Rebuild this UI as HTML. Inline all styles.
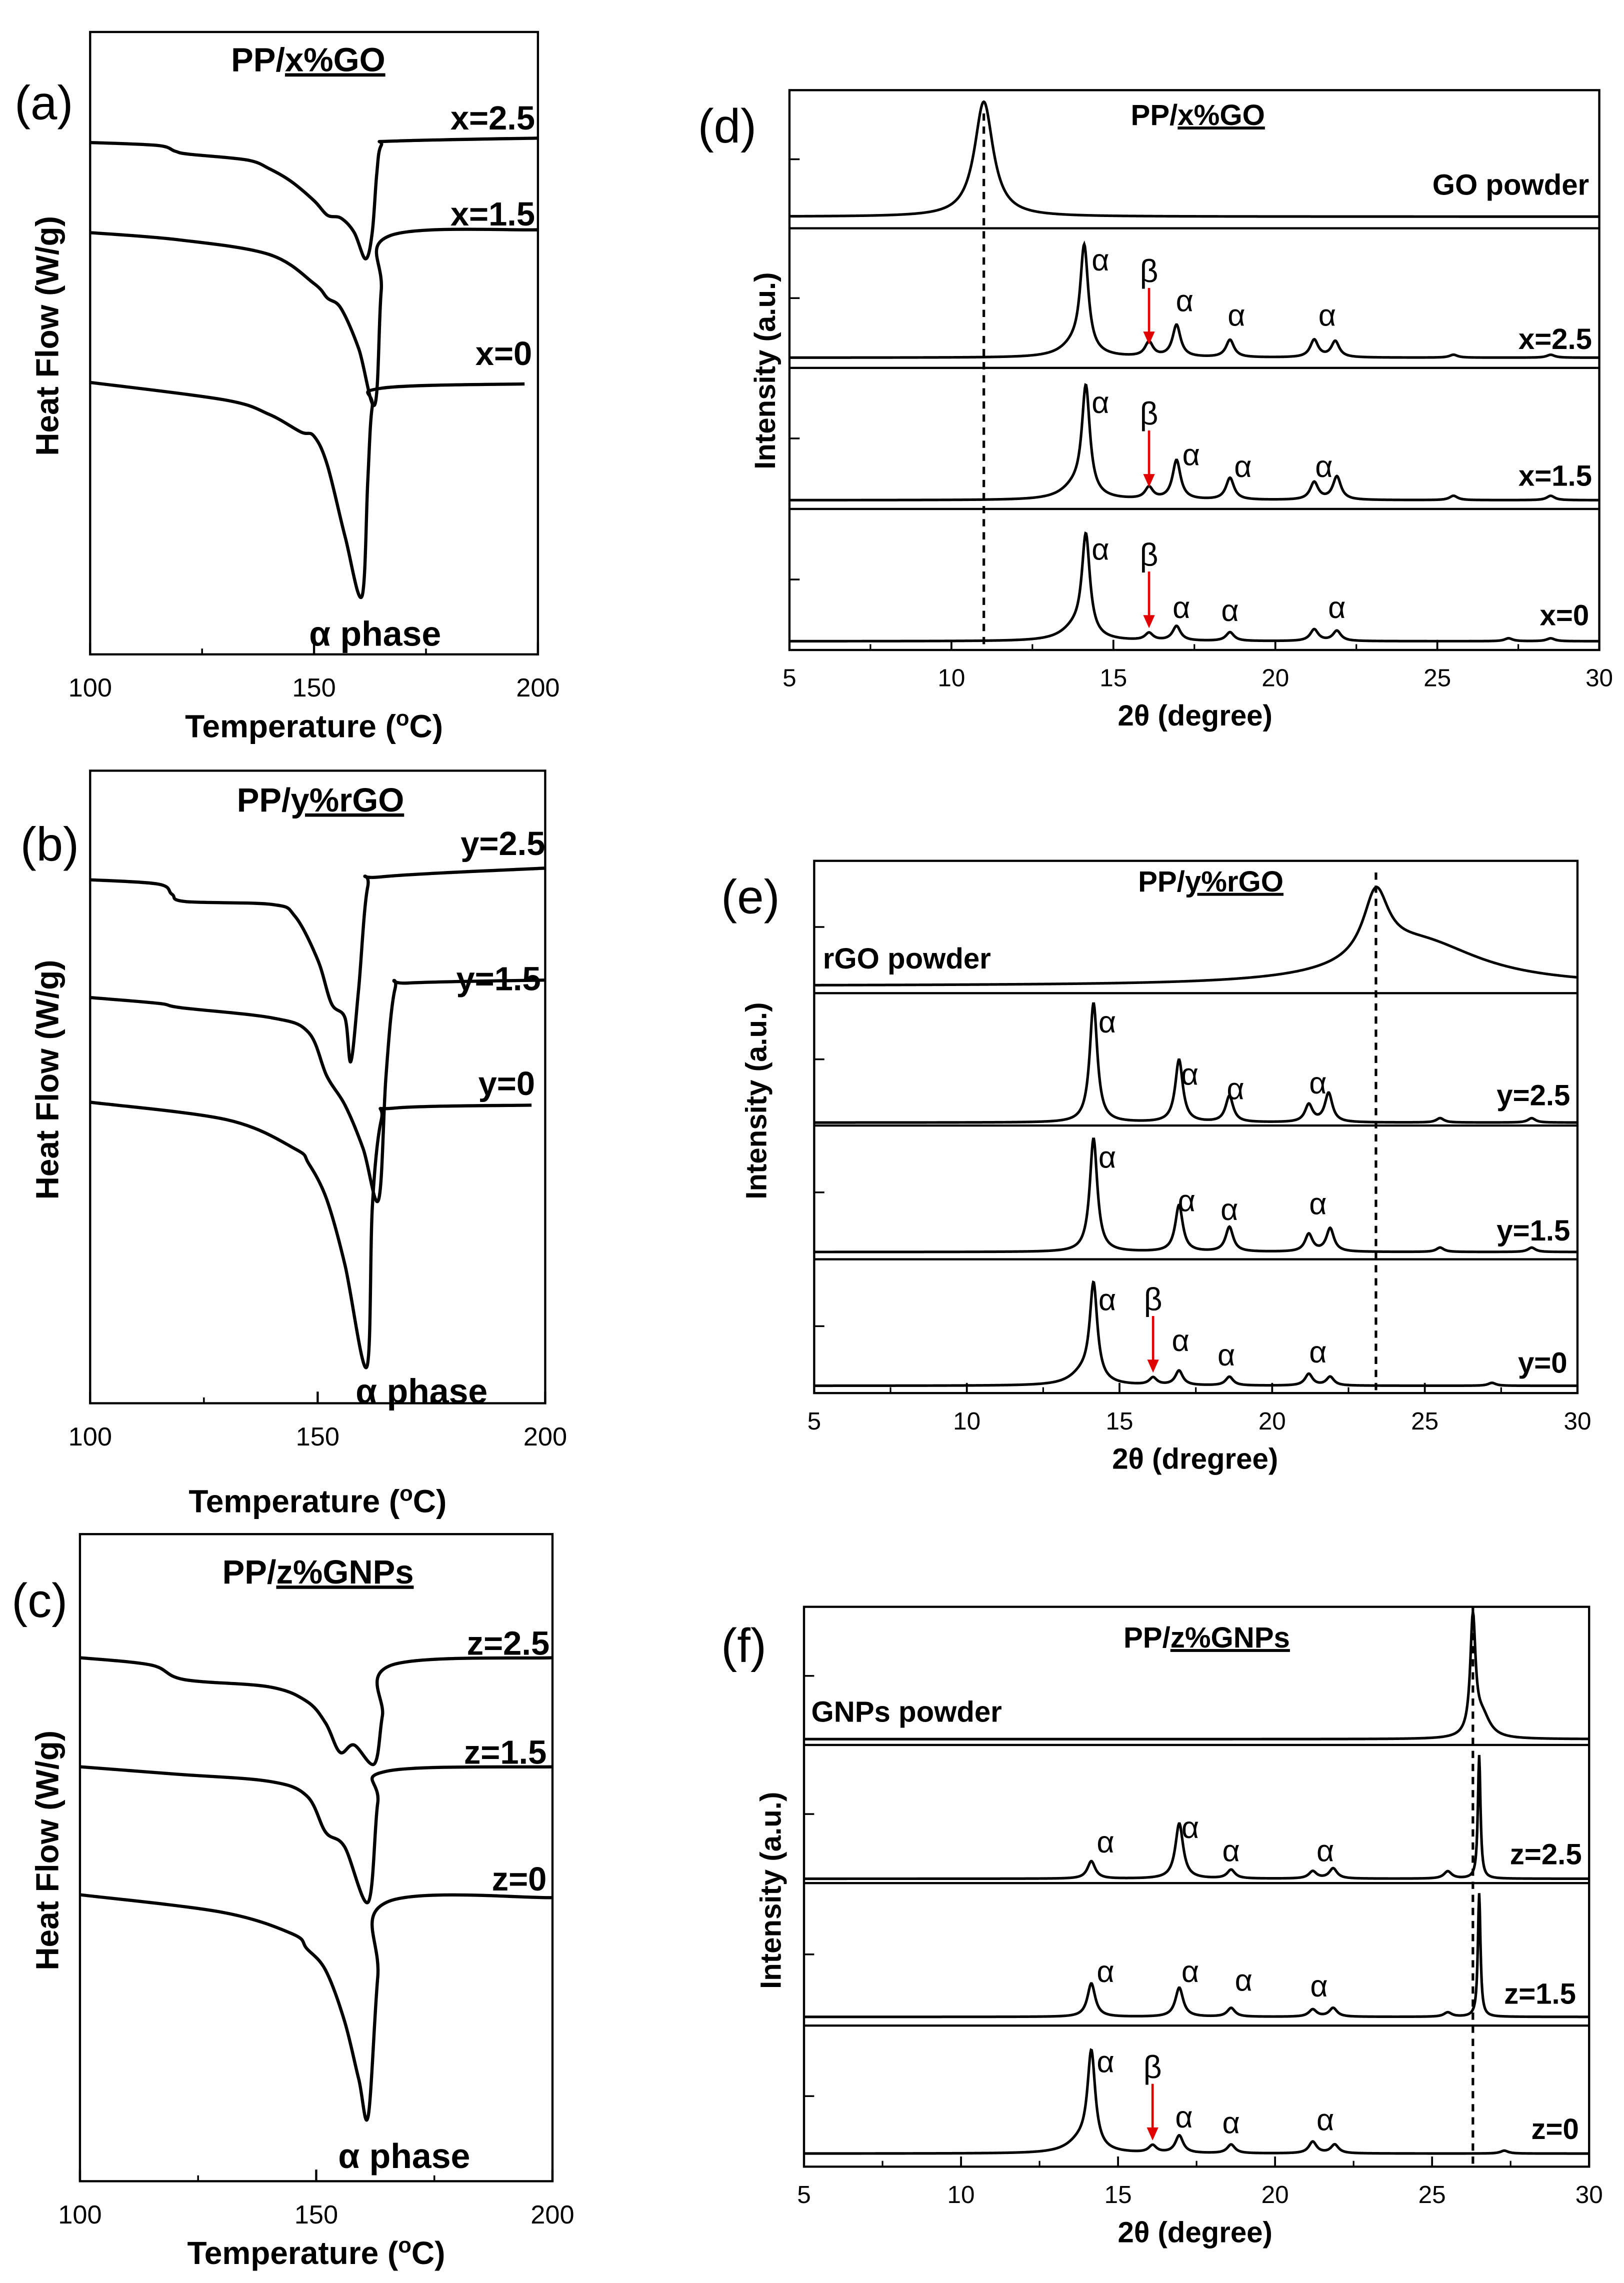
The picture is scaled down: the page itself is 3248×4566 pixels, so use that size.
<!DOCTYPE html>
<html><head><meta charset="utf-8"><style>
html,body{margin:0;padding:0;background:#fff}
svg{display:block}
text{font-family:"Liberation Sans",Arial,sans-serif;fill:#000}
</style></head><body>
<svg id="fig" xmlns="http://www.w3.org/2000/svg" width="3248" height="4566" viewBox="0 0 1117 1570" preserveAspectRatio="none"></svg>
<script>
// ---------- DSC data (temperature °C, heat-flow a.u., downward = endo) ----------
const dscA_T25=[100,115,119,122,135,140,145,150,153,156,159,161.5,163,164,165,168,200];
const dscA_H25=[98,100,104,106,110,116,125,138,148,150,160,178,160,120,100,97,95];
const dscA_T15=[100,120,140,150,153,156,160,163.6,165,167,200];
const dscA_H15=[160,165,175,195,205,212,240,278,200,162,158];
const dscA_T0=[100,130,140,147,150,153,157,160.7,162,163,165,197];
const dscA_H0=[263,275,285,297,300,320,370,410,330,280,267,264];
const dscB_T25=[100,115,118,121,140,145,150,153,156,157.3,159,161,164,200];
const dscB_H25=[605,608,615,620,622,630,660,690,700,730,680,610,603,597];
const dscB_T15=[100,115,120,140,148,152,156,160,163.4,165,167,170,200];
const dscB_H15=[686,690,693,700,710,740,760,790,825,740,680,676,674];
const dscB_T0=[100,130,145,148,152,156,160.8,162,164,167,197];
const dscB_H0=[758,770,790,800,825,870,940,830,770,762,760];
const dscC_T25=[100,115,122,140,148,152,155,158,162.3,164,166,200];
const dscC_H25=[1140,1145,1155,1160,1170,1185,1205,1200,1213,1180,1145,1140];
const dscC_T15=[100,120,140,148,152,156,161,163,165,200];
const dscC_H15=[1215,1220,1225,1235,1260,1270,1308,1240,1218,1215];
const dscC_T0=[100,130,145,148,152,156,159,161,163,165,200];
const dscC_H0=[1303,1315,1330,1340,1355,1390,1430,1455,1360,1308,1305];
const dscTicks=[100,150,200];
// ---------- XRD peak data (2θ, intensity, width) ----------
const goPos=[11.0],goInt=[79],goW=[0.35];
const x25Pos=[13.8,14.1,16.1,16.95,18.6,21.2,21.85,25.5,28.5],x25Int=[8,72,10,22,12,12,11,2,2];
const x15Pos=[13.8,14.15,16.1,16.95,18.6,21.2,21.9,25.5,28.5],x15Int=[8,74,8,27,15,12,16,3,3];
const x0Pos=[13.8,14.15,16.1,16.95,18.6,21.2,21.9,27.2,28.5],x0Int=[8,69,5,10,6,8,7,2,2];
const rgoPos=[23.4,24.8],rgoInt=[45,30],rgoW=[0.5,2.5];
const y25Pos=[14.15,16.95,18.6,21.2,21.85,25.5,28.5],y25Int=[82,43,18,12,20,3,3];
const y15Pos=[14.15,16.95,18.6,21.2,21.9,25.5,28.5],y15Int=[78,32,17,12,16,3,3];
const y0Pos=[13.8,14.15,16.1,16.95,18.6,21.2,21.9,27.2],y0Int=[8,66,5,10,6,8,6,2];
const gnpPos=[26.3,26.6],gnpInt=[80,15],gnpW=[0.1,0.3];
const z25Pos=[14.15,16.95,18.6,21.2,21.85,25.5,26.5],z25Int=[12,38,6,5,7,5,85];
const z15Pos=[14.15,16.95,18.6,21.2,21.85,25.5,26.5],z15Int=[23,20,6,5,6,3,85];
const z0Pos=[13.8,14.15,16.1,16.95,18.6,21.2,21.9,27.3],z0Int=[8,66,5,12,6,8,6,2];
const xrdTicks=[5,10,15,20,25,30];

const svg=document.getElementById('fig');
const NS='http://www.w3.org/2000/svg';
function mk(tag,attrs,name,parent){const e=document.createElementNS(NS,tag);for(const k in attrs)e.setAttribute(k,attrs[k]);


(parent||svg).appendChild(e);return e;}
function txt(x,y,s,size,name,opt){opt=opt||{};const t=mk('text',{x:x,y:y,'font-size':size,'font-weight':opt.bold?'bold':'normal','text-anchor':opt.anchor||'middle',fill:opt.fill||'#000'},name);if(opt.rot)t.setAttribute('transform','rotate(-90 '+x+' '+y+')');t.textContent=s;return t;}
function smooth(pts){let d='M'+pts[0][0].toFixed(1)+' '+pts[0][1].toFixed(1);
  for(let i=0;i<pts.length-1;i++){const p0=pts[i-1]||pts[i],p1=pts[i],p2=pts[i+1],p3=pts[i+2]||p2;
    const c1=[p1[0]+(p2[0]-p0[0])/6,p1[1]+(p2[1]-p0[1])/6],c2=[p2[0]-(p3[0]-p1[0])/6,p2[1]-(p3[1]-p1[1])/6];
    d+='C'+c1[0].toFixed(1)+' '+c1[1].toFixed(1)+' '+c2[0].toFixed(1)+' '+c2[1].toFixed(1)+' '+p2[0].toFixed(1)+' '+p2[1].toFixed(1);}
  return d;}

function dscPanel(p){
  const sx=T=>p.x0+(T-100)/(100)*(p.x1-p.x0);
  mk('rect',{x:p.x0,y:p.y0,width:p.x1-p.x0,height:p.y1-p.y0,fill:'none',stroke:'#000','stroke-width':1.5},p.id+'-frame');
  dscTicks.forEach(t=>{mk('line',{x1:sx(t),x2:sx(t),y1:p.y1,y2:p.y1-8,stroke:'#000','stroke-width':1.5},p.id+'-xtick');
    txt(sx(t),p.y1+29,t,18,p.id+'-xtick-label');});
  [125,175].forEach(t=>mk('line',{x1:sx(t),x2:sx(t),y1:p.y1,y2:p.y1-4,stroke:'#000','stroke-width':1.2},p.id+'-minor-tick'));
  p.curves.forEach(c=>{const pts=c.T.map((T,i)=>[sx(T),c.H[i]]);
    mk('path',{d:smooth(pts),fill:'none',stroke:'#000','stroke-width':2.2,'stroke-linejoin':'round'},p.id+'-curve-'+c.n);
    txt(c.lx,c.ly,c.label,23,p.id+'-label-'+c.n,{bold:true,anchor:'end'});});
  const xl=txt((p.x0+p.x1)/2,p.xlY,'Temperature (',22,p.id+'-x-axis-title',{bold:true});
  const sup=document.createElementNS(NS,'tspan');sup.setAttribute('dy','-8');sup.setAttribute('font-size','15');sup.textContent='o';xl.appendChild(sup);
  const c2=document.createElementNS(NS,'tspan');c2.setAttribute('dy','8');c2.textContent='C)';xl.appendChild(c2);
  txt(40,(p.y0+p.y1)/2-5,'Heat Flow (W/g)',22,p.id+'-y-axis-title',{bold:true,rot:true});
  txt(p.lx,p.ly,p.letter,33,p.id+'-panel-letter',{anchor:'start'});
  txt(p.tx,p.ty,p.t1,23,p.id+'-title',{bold:true,anchor:'end'});
  const t2=txt(p.tx,p.ty,p.t2,23,p.id+'-title-underlined',{bold:true,anchor:'start'});t2.setAttribute('text-decoration','underline');
  txt(p.px,p.py,'α phase',24,p.id+'-phase-label',{bold:true});
}
dscPanel({id:'a',x0:62,x1:370,y0:22,y1:450,xlY:507,lx:10,ly:82,letter:'(a)',tx:196,ty:49,t1:'PP/',t2:'x%GO',px:258,py:444,
 curves:[{n:'x25',T:dscA_T25,H:dscA_H25,label:'x=2.5',lx:368,ly:89},{n:'x15',T:dscA_T15,H:dscA_H15,label:'x=1.5',lx:368,ly:155},{n:'x0',T:dscA_T0,H:dscA_H0,label:'x=0',lx:366,ly:251}]});
dscPanel({id:'b',x0:62,x1:375,y0:530,y1:965,xlY:1040,lx:14,ly:592,letter:'(b)',tx:200,ty:558,t1:'PP/',t2:'y%rGO',px:290,py:965,
 curves:[{n:'y25',T:dscB_T25,H:dscB_H25,label:'y=2.5',lx:375,ly:588},{n:'y15',T:dscB_T15,H:dscB_H15,label:'y=1.5',lx:372,ly:681},{n:'y0',T:dscB_T0,H:dscB_H0,label:'y=0',lx:368,ly:753}]});
dscPanel({id:'c',x0:55,x1:380,y0:1055,y1:1500,xlY:1557,lx:8,ly:1112,letter:'(c)',tx:190,ty:1089,t1:'PP/',t2:'z%GNPs',px:278,py:1491,
 curves:[{n:'z25',T:dscC_T25,H:dscC_H25,label:'z=2.5',lx:378,ly:1138},{n:'z15',T:dscC_T15,H:dscC_H15,label:'z=1.5',lx:376,ly:1213},{n:'z0',T:dscC_T0,H:dscC_H0,label:'z=0',lx:376,ly:1300}]});

function xrdPanel(p){
  const sx=a=>p.x0+(a-5)/25*(p.x1-p.x0);
  mk('rect',{x:p.x0,y:p.y0,width:p.x1-p.x0,height:p.y1-p.y0,fill:'none',stroke:'#000','stroke-width':1.5},p.id+'-frame');
  p.seps.forEach(s=>mk('line',{x1:p.x0,x2:p.x1,y1:s,y2:s,stroke:'#000','stroke-width':1.5},p.id+'-separator'));
  const bounds=[p.y0].concat(p.seps,[p.y1]);
  for(let i=0;i<bounds.length-1;i++){const m=(bounds[i]+bounds[i+1])/2;
    mk('line',{x1:p.x0,x2:p.x0+7,y1:m,y2:m,stroke:'#000','stroke-width':1.2},p.id+'-ytick');
    mk('line',{x1:p.x0,x2:p.x0+7,y1:bounds[i],y2:bounds[i],stroke:'#000','stroke-width':1.2},p.id+'-ytick');}
  xrdTicks.forEach(t=>{mk('line',{x1:sx(t),x2:sx(t),y1:p.y1,y2:p.y1-7,stroke:'#000','stroke-width':1.3},p.id+'-xtick');
    txt(sx(t),p.y1+25,t,17,p.id+'-xtick-label');});
  for(let t=7.5;t<30;t+=5)mk('line',{x1:sx(t),x2:sx(t),y1:p.y1,y2:p.y1-4,stroke:'#000','stroke-width':1.1},p.id+'-minor-tick');
  mk('line',{x1:sx(p.dash),x2:sx(p.dash),y1:p.dashTop,y2:p.y1,stroke:'#000','stroke-width':1.8,'stroke-dasharray':'5,4'},p.id+'-dashed-line');
  p.traces.forEach(tr=>{const base=tr.base;const W=tr.W||[];let d='';
    for(let a=5;a<=30.0001;a+=0.02){let v=0;tr.P.forEach((pp,k)=>{const w=W[k]||(pp===13.8?0.5:(tr.narrow&&pp>26?0.05:0.15));v+=tr.I[k]/(1+((a-pp)/w)**2);});
      d+=(d?'L':'M')+sx(a).toFixed(2)+' '+(base-v).toFixed(2);}
    mk('path',{d:d,fill:'none',stroke:'#000','stroke-width':1.8},p.id+'-trace-'+tr.n);
    txt(tr.lx,tr.ly,tr.label,20,p.id+'-label-'+tr.n,{bold:true,anchor:tr.anchor||'end'});
    (tr.alpha||[]).forEach(al=>txt(sx(al[0]),base-al[1],'α',21,p.id+'-alpha-label'));
    if(tr.beta){const bx=sx(16.1);txt(bx,base-52,'β',22,p.id+'-beta-label',{fill:'#e00000'});
      mk('line',{x1:bx,x2:bx,y1:base-48,y2:base-16,stroke:'#e00000','stroke-width':1.6},p.id+'-beta-arrow');
      mk('path',{d:'M'+(bx-4)+' '+(base-18)+'L'+(bx+4)+' '+(base-18)+'L'+bx+' '+(base-9)+'Z',fill:'#e00000'},p.id+'-beta-arrowhead');}
  });
  txt(p.xlX,p.y1+52,p.xl,20,p.id+'-x-axis-title',{bold:true});
  txt(p.ylX,p.ylY,'Intensity (a.u.)',20,p.id+'-y-axis-title',{bold:true,rot:true});
  txt(p.lx,p.ly,p.letter,33,p.id+'-panel-letter',{anchor:'start'});
  txt(p.tx,p.ty,'PP/',20,p.id+'-title',{bold:true,anchor:'end'});
  const t2=txt(p.tx,p.ty,p.t2,20,p.id+'-title-underlined',{bold:true,anchor:'start'});t2.setAttribute('text-decoration','underline');
}
xrdPanel({id:'d',x0:543,x1:1100,y0:62,y1:447,seps:[157,253,350],dash:11,dashTop:78,xl:'2θ (degree)',xlX:822,ylX:533,ylY:255,lx:480,ly:98,letter:'(d)',tx:810,ty:86,t2:'x%GO',
 traces:[{n:'go',P:goPos,I:goInt,W:goW,base:149,label:'GO powder',lx:1093,ly:134},
 {n:'x25',P:x25Pos,I:x25Int,base:246,label:'x=2.5',lx:1095,ly:240,beta:true,alpha:[[14.6,60],[17.2,32],[18.8,22],[21.6,22]]},
 {n:'x15',P:x15Pos,I:x15Int,base:344,label:'x=1.5',lx:1095,ly:334,beta:true,alpha:[[14.6,60],[17.4,24],[19,16],[21.5,16]]},
 {n:'x0',P:x0Pos,I:x0Int,base:441,label:'x=0',lx:1093,ly:430,beta:true,alpha:[[14.6,56],[17.1,16],[18.6,14],[21.9,16]]}]});
xrdPanel({id:'e',x0:560,x1:1085,y0:592,y1:958,seps:[683,774,866],dash:23.4,dashTop:600,xl:'2θ (dregree)',xlX:822,ylX:527,ylY:757,lx:496,ly:628,letter:'(e)',tx:815,ty:613,t2:'y%rGO',
 traces:[{n:'rgo',P:rgoPos,I:rgoInt,W:rgoW,base:678,label:'rGO powder',lx:566,ly:666,anchor:'start'},
 {n:'y25',P:y25Pos,I:y25Int,base:772,label:'y=2.5',lx:1080,ly:760,alpha:[[14.6,62],[17.3,26],[18.8,16],[21.5,20]]},
 {n:'y15',P:y15Pos,I:y15Int,base:861,label:'y=1.5',lx:1080,ly:853,alpha:[[14.6,58],[17.2,28],[18.6,22],[21.5,26]]},
 {n:'y0',P:y0Pos,I:y0Int,base:953,label:'y=0',lx:1078,ly:944,beta:true,alpha:[[14.6,52],[17,24],[18.5,14],[21.5,16]]}]});
xrdPanel({id:'f',x0:553,x1:1093,y0:1105,y1:1490,seps:[1200,1295,1393],dash:26.3,dashTop:1105,xl:'2θ (degree)',xlX:822,ylX:537,ylY:1300,lx:496,ly:1143,letter:'(f)',tx:805,ty:1133,t2:'z%GNPs',
 traces:[{n:'gnp',P:gnpPos,I:gnpInt,W:gnpW,base:1196,label:'GNPs powder',lx:558,ly:1184,anchor:'start'},
 {n:'z25',P:z25Pos,I:z25Int,base:1292,label:'z=2.5',lx:1088,ly:1282,narrow:true,alpha:[[14.6,18],[17.3,28],[18.6,12],[21.6,12]]},
 {n:'z15',P:z15Pos,I:z15Int,base:1387,label:'z=1.5',lx:1084,ly:1378,narrow:true,alpha:[[14.6,24],[17.3,24],[19,18],[21.4,14]]},
 {n:'z0',P:z0Pos,I:z0Int,base:1481,label:'z=0',lx:1086,ly:1471,beta:true,alpha:[[14.6,56],[17.1,18],[18.6,14],[21.6,16]]}]});
</script>
</body></html>
